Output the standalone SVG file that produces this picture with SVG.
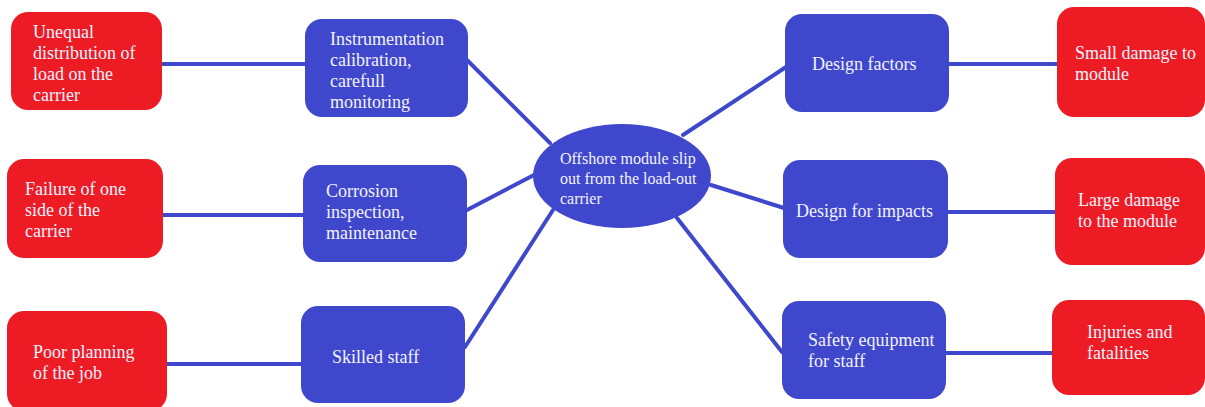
<svg xmlns="http://www.w3.org/2000/svg" width="1205" height="407" viewBox="0 0 1205 407">
<style>
.red{fill:#ed1c24}
.blue{fill:#3f48cc}
.t{font-family:"Liberation Serif","Times New Roman",serif;font-size:18px;fill:#f4f2ff}
.tc{font-family:"Liberation Serif","Times New Roman",serif;font-size:16px;fill:#f4f2ff}
.c{stroke:#3f48cc;stroke-width:4;stroke-linecap:round;fill:none}
</style>
<rect width="1205" height="407" fill="#ffffff"/>
<g id="connectors">
<line class="c" x1="162" y1="64" x2="306" y2="64"/>
<line class="c" x1="163" y1="215" x2="304" y2="215"/>
<line class="c" x1="167" y1="364" x2="302" y2="364"/>
<line class="c" x1="467" y1="60" x2="550" y2="143"/>
<line class="c" x1="467" y1="210" x2="534" y2="175"/>
<line class="c" x1="465" y1="347" x2="553" y2="210"/>
<line class="c" x1="683" y1="135" x2="786" y2="67"/>
<line class="c" x1="711" y1="185" x2="784" y2="208"/>
<line class="c" x1="677" y1="218" x2="782" y2="352"/>
<line class="c" x1="948" y1="64" x2="1060" y2="64"/>
<line class="c" x1="947" y1="212" x2="1057" y2="212"/>
<line class="c" x1="945" y1="353" x2="1055" y2="353"/>
</g>
<g id="center">
<ellipse class="blue" cx="622" cy="176" rx="89" ry="52"/>
<text class="tc" x="560" y="164">Offshore module slip</text>
<text class="tc" x="560" y="184">out from the load-out</text>
<text class="tc" x="560" y="204">carrier</text>
</g>
<g id="cause1">
<rect class="red" x="11" y="12" width="151" height="98" rx="17"/>
<text class="t" x="33" y="38">Unequal</text>
<text class="t" x="33" y="59">distribution of</text>
<text class="t" x="33" y="80">load on the</text>
<text class="t" x="33" y="101">carrier</text>
</g>
<g id="cause2">
<rect class="red" x="7" y="159" width="156" height="99" rx="17"/>
<text class="t" x="25" y="195">Failure of one</text>
<text class="t" x="25" y="216">side of the</text>
<text class="t" x="25" y="237">carrier</text>
</g>
<g id="cause3">
<rect class="red" x="7" y="311" width="160" height="100" rx="17"/>
<text class="t" x="33" y="358">Poor planning</text>
<text class="t" x="33" y="379">of the job</text>
</g>
<g id="prevent1">
<rect class="blue" x="305" y="19" width="163" height="98" rx="17"/>
<text class="t" x="330" y="45">Instrumentation</text>
<text class="t" x="330" y="66">calibration,</text>
<text class="t" x="330" y="87">carefull</text>
<text class="t" x="330" y="108">monitoring</text>
</g>
<g id="prevent2">
<rect class="blue" x="303" y="165" width="164" height="97" rx="17"/>
<text class="t" x="326" y="197">Corrosion</text>
<text class="t" x="326" y="218">inspection,</text>
<text class="t" x="326" y="239">maintenance</text>
</g>
<g id="prevent3">
<rect class="blue" x="301" y="306" width="164" height="97" rx="17"/>
<text class="t" x="332" y="363">Skilled staff</text>
</g>
<g id="mitigate1">
<rect class="blue" x="785" y="14" width="164" height="98" rx="17"/>
<text class="t" x="812" y="70">Design factors</text>
</g>
<g id="mitigate2">
<rect class="blue" x="783" y="160" width="165" height="98" rx="17"/>
<text class="t" x="796" y="217">Design for impacts</text>
</g>
<g id="mitigate3">
<rect class="blue" x="782" y="301" width="164" height="98" rx="17"/>
<text class="t" x="808" y="346">Safety equipment</text>
<text class="t" x="808" y="367">for staff</text>
</g>
<g id="consequence1">
<rect class="red" x="1057" y="7" width="148" height="110" rx="17"/>
<text class="t" x="1075" y="59">Small damage to</text>
<text class="t" x="1075" y="80">module</text>
</g>
<g id="consequence2">
<rect class="red" x="1055" y="158" width="150" height="107" rx="17"/>
<text class="t" x="1078" y="206">Large damage</text>
<text class="t" x="1078" y="227">to the module</text>
</g>
<g id="consequence3">
<rect class="red" x="1052" y="300" width="153" height="95" rx="17"/>
<text class="t" x="1087" y="338">Injuries and</text>
<text class="t" x="1087" y="359">fatalities</text>
</g>
</svg>
